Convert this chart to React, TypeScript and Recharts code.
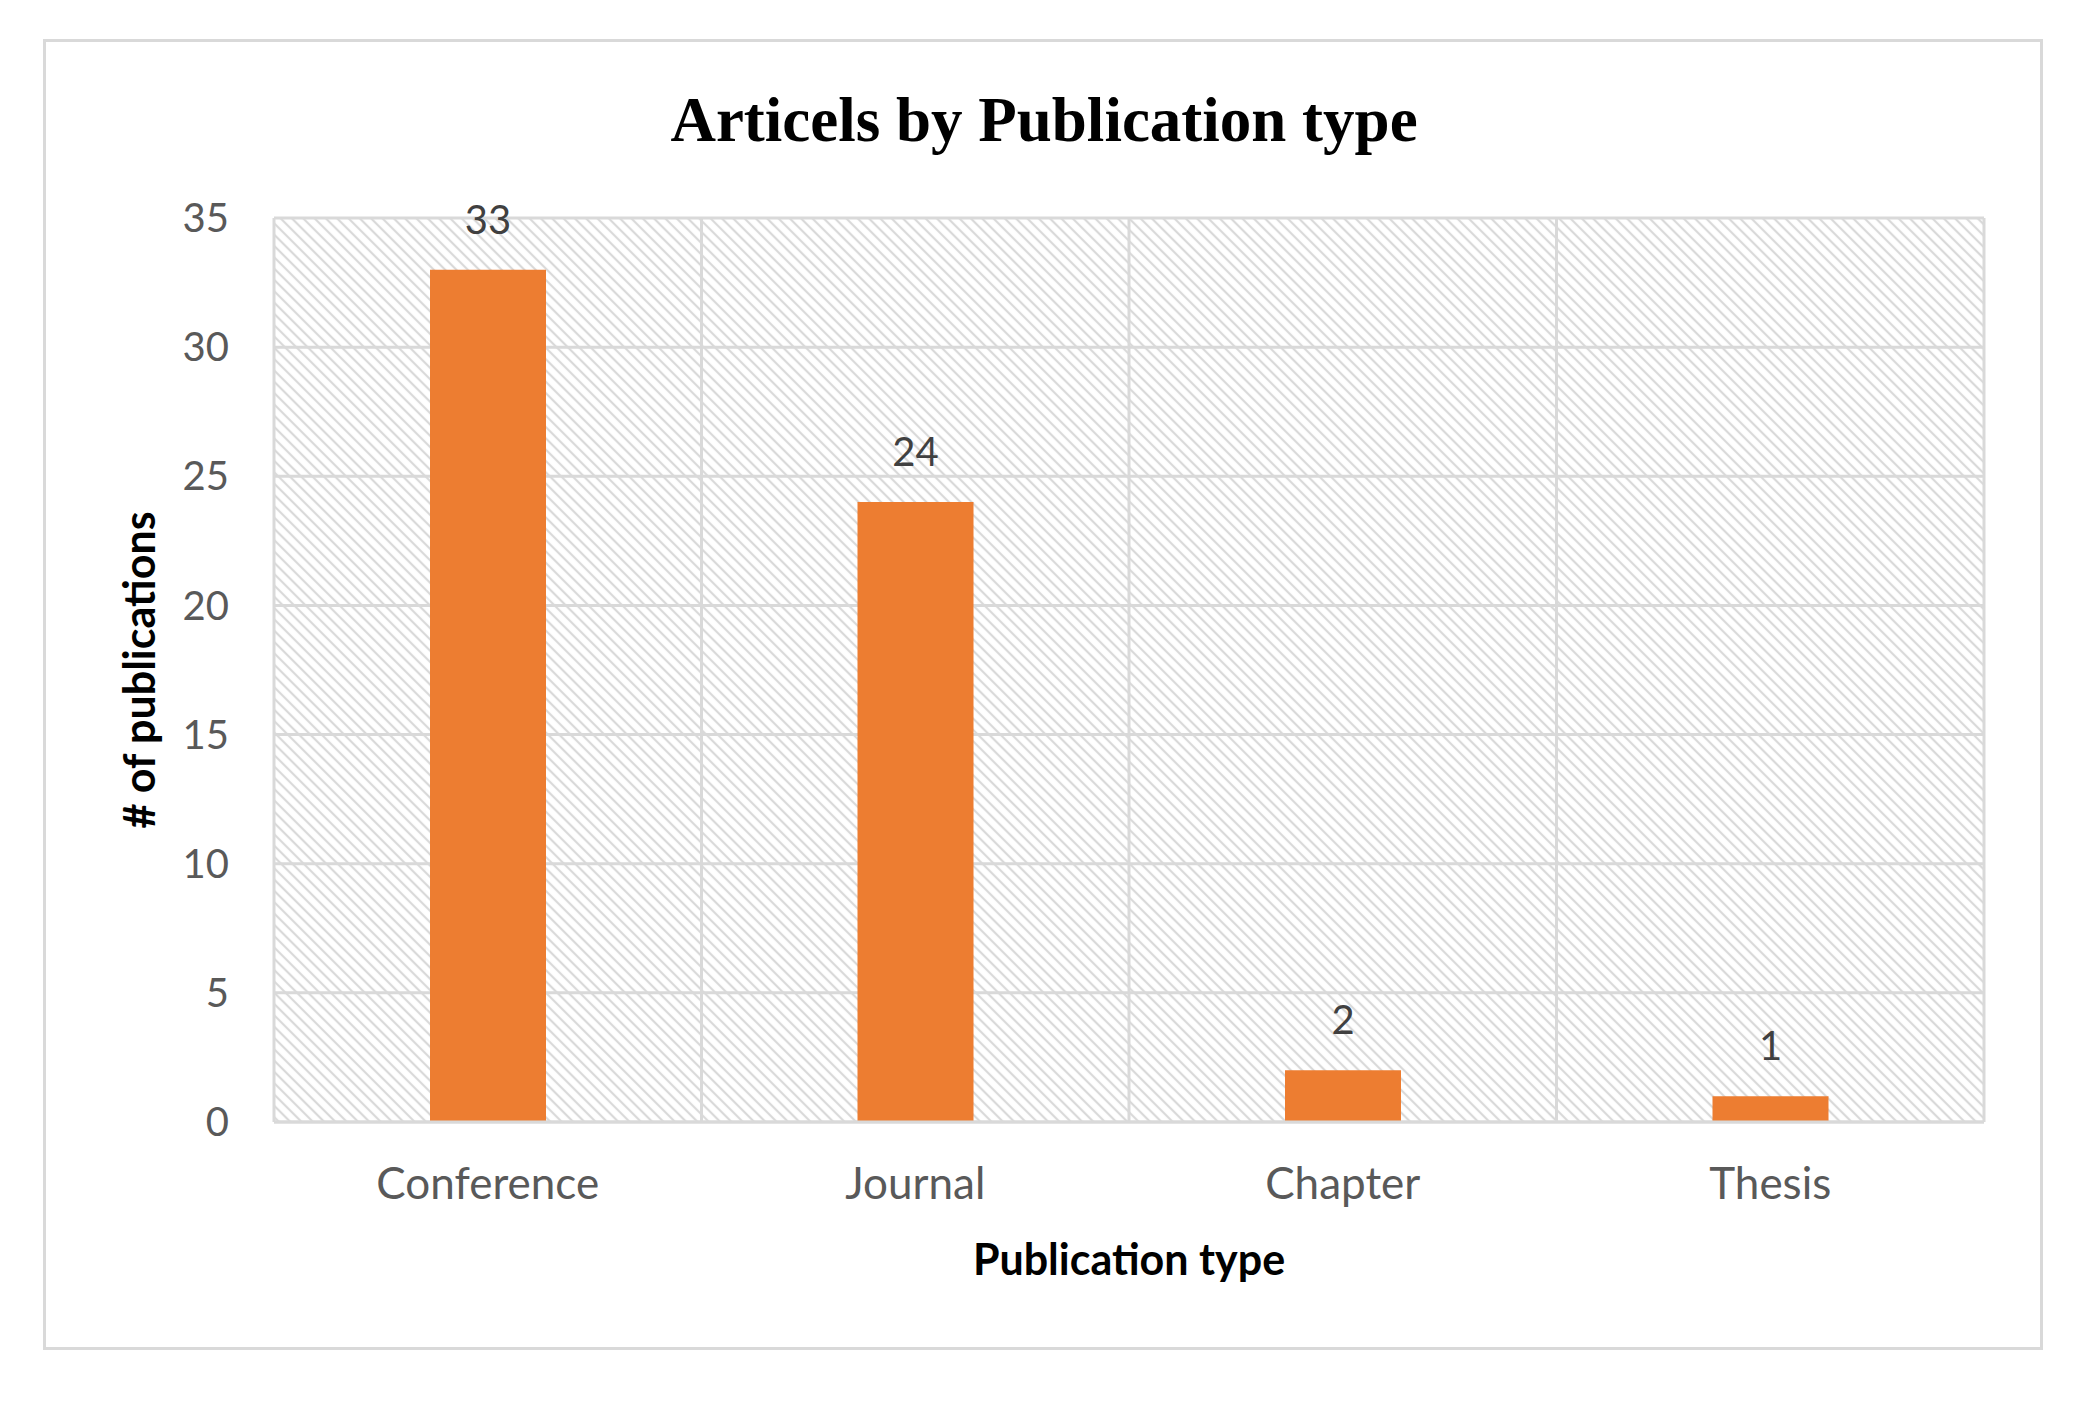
import React from 'react'
import { BarChart, Bar, XAxis, YAxis, CartesianGrid, LabelList, Label } from 'recharts'

const CATEGORIES = ['Conference', 'Journal', 'Chapter', 'Thesis']
const COUNTS = [33, 24, 2, 1]
const Y_TICKS = [0, 5, 10, 15, 20, 25, 30, 35]

const data = CATEGORIES.map((name, i) => ({ name, count: COUNTS[i] }))

const GRID = '#d9d9d9'
const ORANGE = '#ED7D31'
const SANS = 'Lato, "Open Sans", sans-serif'

const YTitle = (props: any) => {
  const { viewBox } = props
  const x = viewBox.x + 38
  const y = viewBox.y + viewBox.height / 2
  return (
    <text x={x} y={y} transform={`rotate(-90 ${x} ${y})`} textAnchor="middle" dominantBaseline="central"
      fontFamily={SANS} fontWeight={700} fontSize={43} fill="#000">
      # of publications
    </text>
  )
}

const XTitle = (props: any) => {
  const { viewBox } = props
  const x = viewBox.x + viewBox.width / 2
  const y = viewBox.y + 136
  return (
    <text x={x} y={y} textAnchor="middle" dominantBaseline="central"
      fontFamily={SANS} fontWeight={700} fontSize={43} fill="#000">
      Publication type
    </text>
  )
}

export default function App() {
  return (
    <div style={{ position: 'absolute', left: 0, top: 0, width: 2085, height: 1411, background: '#fff' }}>
      {/* hatch pattern used by the plot background */}
      <svg width={0} height={0} style={{ position: 'absolute' }}>
        <defs>
          <pattern id="hatch" width="8" height="8" patternUnits="userSpaceOnUse" patternTransform="rotate(45)">
            <rect width="8" height="8" fill="#fff" />
            <line x1="0" y1="4" x2="8" y2="4" stroke="#d9d9d9" strokeWidth={2.2} />
          </pattern>
        </defs>
      </svg>

      {/* outer chart frame */}
      <div style={{
        position: 'absolute', left: 43, top: 39, width: 2000, height: 1311,
        border: `3px solid ${GRID}`, boxSizing: 'border-box',
      }} />

      <div style={{
        position: 'absolute', left: 0, top: 82, width: 2088, textAlign: 'center',
        fontFamily: '"Liberation Serif", "Times New Roman", serif', fontWeight: 700, fontSize: 63,
        lineHeight: '76px', color: '#000',
      }}>
        Articels by Publication type
      </div>

      <div style={{ position: 'absolute', left: 0, top: 0 }}>
        <BarChart width={2085} height={1411} data={data}
          margin={{ top: 218, right: 101, left: 100, bottom: 139 }}>
          <CartesianGrid
            fill="url(#hatch)"
            fillOpacity={1}
            stroke={GRID}
            strokeWidth={3}
            verticalCoordinatesGenerator={({ offset }: any) =>
              [0, 1, 2, 3, 4].map(i => offset.left + (i * offset.width) / CATEGORIES.length)}
          />
          <XAxis dataKey="name" height={150} axisLine={{ stroke: GRID, strokeWidth: 3 }} tickLine={false}
            tickSize={0} tickMargin={46}
            tick={{ fontFamily: SANS, fontSize: 44, fill: '#595959' }}>
            <Label content={<XTitle />} />
          </XAxis>
          <YAxis width={174} domain={[0, 35]} ticks={Y_TICKS} axisLine={false} tickLine={false}
            tickSize={0} tickMargin={45}
            tick={{ fontFamily: SANS, fontSize: 40, fill: '#595959' }}>
            <Label content={<YTitle />} />
          </YAxis>
          <Bar dataKey="count" fill={ORANGE} barSize={116} isAnimationActive={false}>
            <LabelList dataKey="count" position="top" offset={36}
              style={{ fontFamily: SANS, fontSize: 40, fill: '#404040' }} />
          </Bar>
        </BarChart>
      </div>
    </div>
  )
}
